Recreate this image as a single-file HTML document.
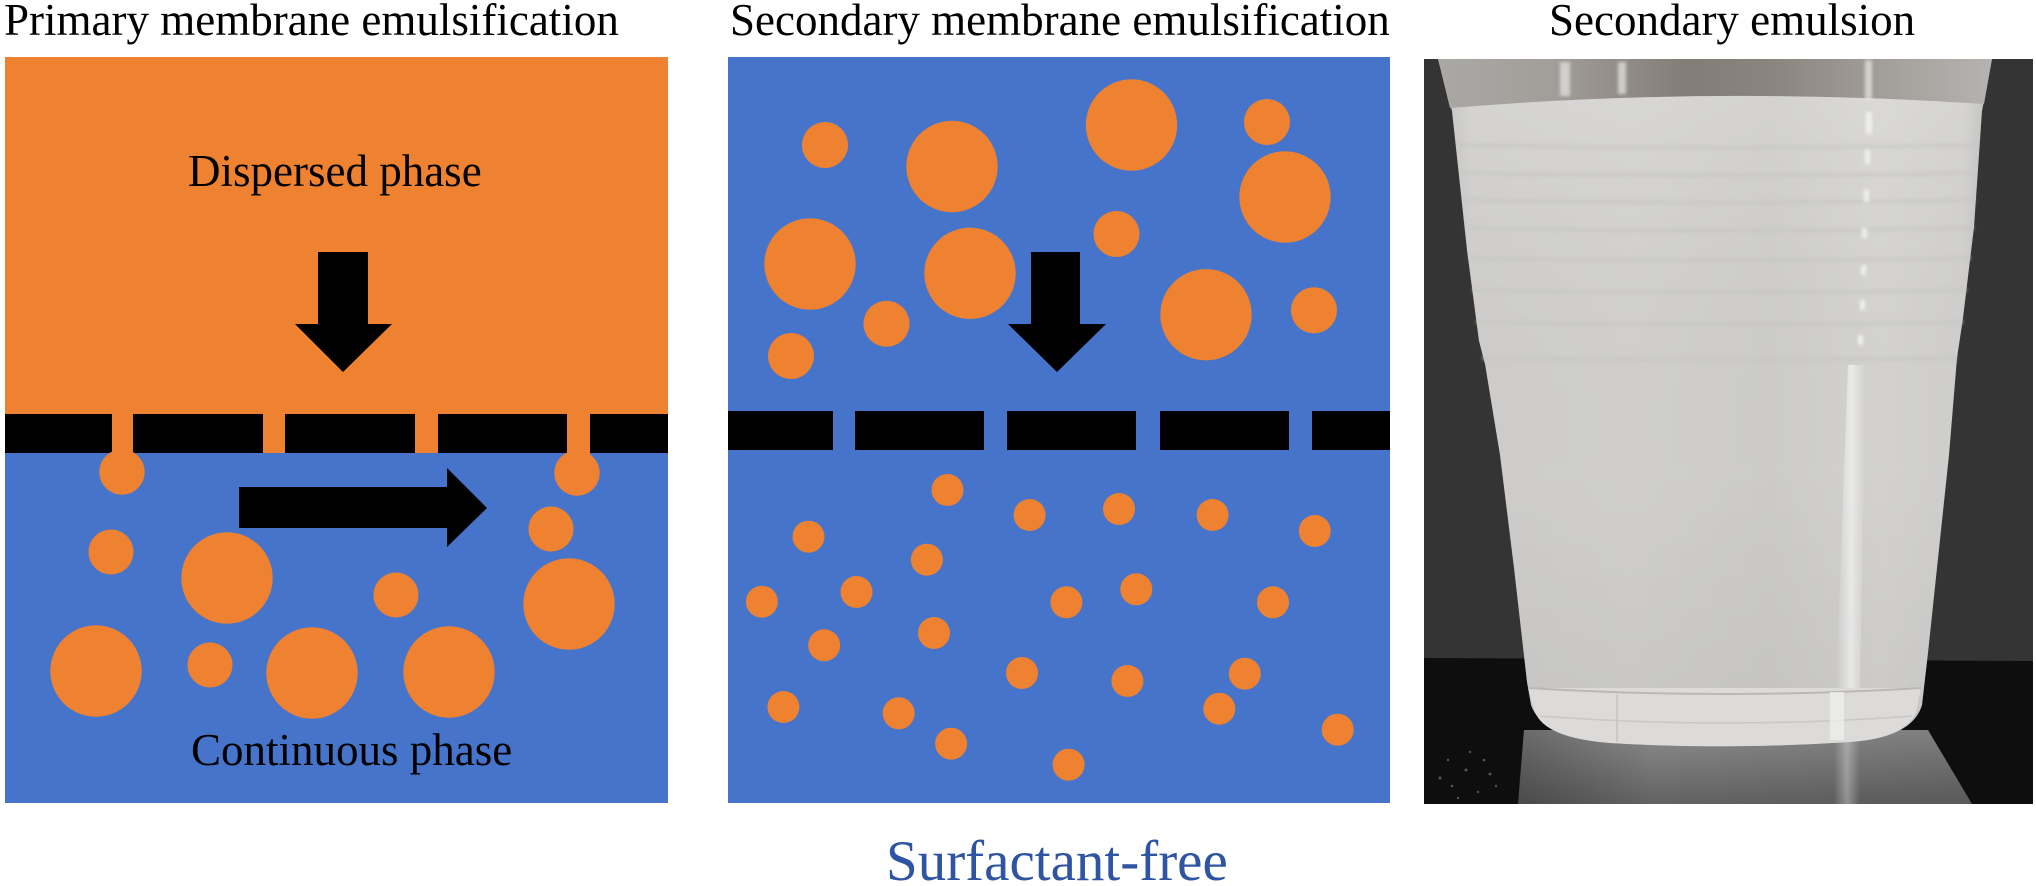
<!DOCTYPE html>
<html>
<head>
<meta charset="utf-8">
<style>
  html,body{margin:0;padding:0;background:#fff;}
  body{width:2036px;height:886px;overflow:hidden;}
  svg{display:block;}
  text{font-family:"Liberation Serif","Times New Roman",serif;}
</style>
</head>
<body>
<svg width="2036" height="886" viewBox="0 0 2036 886" xmlns="http://www.w3.org/2000/svg">
  <defs>
    <linearGradient id="cupH" x1="0" y1="0" x2="1" y2="0">
      <stop offset="0" stop-color="#c2c1bf"/>
      <stop offset="0.06" stop-color="#d3d2d0"/>
      <stop offset="0.35" stop-color="#d6d5d3"/>
      <stop offset="0.6" stop-color="#d2d1cf"/>
      <stop offset="0.8" stop-color="#d9d8d6"/>
      <stop offset="0.95" stop-color="#d4d3d1"/>
      <stop offset="1" stop-color="#bdbcba"/>
    </linearGradient>
    <linearGradient id="cupV" x1="0" y1="0" x2="0" y2="1">
      <stop offset="0" stop-color="#ffffff" stop-opacity="0.08"/>
      <stop offset="0.6" stop-color="#000000" stop-opacity="0.03"/>
      <stop offset="1" stop-color="#000000" stop-opacity="0.07"/>
    </linearGradient>
    <linearGradient id="rim" x1="0" y1="0" x2="1" y2="0">
      <stop offset="0" stop-color="#aaa8a5"/>
      <stop offset="0.2" stop-color="#a29e9a"/>
      <stop offset="0.45" stop-color="#837d77"/>
      <stop offset="0.6" stop-color="#8a847e"/>
      <stop offset="0.8" stop-color="#a29e9a"/>
      <stop offset="1" stop-color="#b5b3b0"/>
    </linearGradient>
    <linearGradient id="refl" x1="0" y1="0" x2="0" y2="1">
      <stop offset="0" stop-color="#8c8c8c"/>
      <stop offset="1" stop-color="#626262"/>
    </linearGradient>
    <linearGradient id="reflH" x1="0" y1="0" x2="1" y2="0">
      <stop offset="0" stop-color="#000" stop-opacity="0.25"/>
      <stop offset="0.3" stop-color="#000" stop-opacity="0"/>
      <stop offset="1" stop-color="#000" stop-opacity="0.1"/>
    </linearGradient>
    <linearGradient id="hl" x1="0" y1="0" x2="1" y2="0">
      <stop offset="0" stop-color="#ffffff" stop-opacity="0"/>
      <stop offset="0.5" stop-color="#ffffff" stop-opacity="0.55"/>
      <stop offset="1" stop-color="#ffffff" stop-opacity="0"/>
    </linearGradient>
    <filter id="blur2"><feGaussianBlur stdDeviation="1.5"/></filter>
    <clipPath id="photoClip"><rect x="1424" y="59" width="609" height="745"/></clipPath>
  </defs>

  <!-- Titles -->
  <text x="4" y="35" font-size="45" fill="#000">Primary membrane emulsification</text>
  <text x="730" y="35" font-size="45" fill="#000">Secondary membrane emulsification</text>
  <text x="1549" y="35" font-size="45" fill="#000">Secondary emulsion</text>

  <!-- ============ LEFT PANEL ============ -->
  <rect x="5" y="57" width="663" height="357" fill="#EE8231"/>
  <rect x="5" y="453" width="663" height="350" fill="#4674CB"/>
  <rect x="5" y="414" width="107" height="39" fill="#000"/>
  <rect x="133" y="414" width="130" height="39" fill="#000"/>
  <rect x="285" y="414" width="130" height="39" fill="#000"/>
  <rect x="438" y="414" width="130" height="39" fill="#000"/>
  <rect x="590" y="414" width="78" height="39" fill="#000"/>
  <rect x="112" y="414" width="21" height="40" fill="#EE8231"/>
  <rect x="263" y="414" width="22" height="39" fill="#EE8231"/>
  <rect x="415" y="414" width="23" height="39" fill="#EE8231"/>
  <rect x="567" y="414" width="23" height="40" fill="#EE8231"/>

  <text x="188" y="186" font-size="45" fill="#000">Dispersed phase</text>
  <polygon points="318,252 368,252 368,324 392,324 343,372 295,324 318,324" fill="#000"/>

  <g fill="#EE8231">
    <circle cx="122" cy="472" r="22.7"/>
    <circle cx="577" cy="473" r="22.7"/>
    <circle cx="111" cy="552" r="22.5"/>
    <circle cx="227" cy="578" r="45.7"/>
    <circle cx="396" cy="595" r="22.5"/>
    <circle cx="551" cy="529" r="22.5"/>
    <circle cx="569" cy="604" r="45.7"/>
    <circle cx="96" cy="671" r="45.7"/>
    <circle cx="210" cy="665" r="22.5"/>
    <circle cx="312" cy="673" r="45.7"/>
    <circle cx="449" cy="672" r="45.7"/>
  </g>
  <polygon points="239,487 447,487 447,468 487,508 447,547 447,528 239,528" fill="#000"/>

  <text x="191" y="765" font-size="45" fill="#000">Continuous phase</text>

  <!-- ============ MIDDLE PANEL ============ -->
  <rect x="728" y="57" width="662" height="746" fill="#4674CB"/>
  <rect x="728" y="411" width="105" height="39" fill="#000"/>
  <rect x="855" y="411" width="129" height="39" fill="#000"/>
  <rect x="1007" y="411" width="129" height="39" fill="#000"/>
  <rect x="1160" y="411" width="129" height="39" fill="#000"/>
  <rect x="1312" y="411" width="78" height="39" fill="#000"/>

  <g fill="#EE8231">
    <circle cx="825" cy="145" r="23"/>
    <circle cx="952" cy="166.5" r="45.7"/>
    <circle cx="1131.5" cy="125" r="45.7"/>
    <circle cx="1267" cy="122" r="23"/>
    <circle cx="1285" cy="197" r="45.7"/>
    <circle cx="1116.5" cy="234" r="23"/>
    <circle cx="810" cy="264" r="45.7"/>
    <circle cx="970" cy="273.3" r="45.7"/>
    <circle cx="886.5" cy="323.7" r="23"/>
    <circle cx="791" cy="356" r="23"/>
    <circle cx="1206" cy="314.7" r="45.7"/>
    <circle cx="1314" cy="310.3" r="23"/>
  </g>
  <polygon points="1031,252 1080,252 1080,324 1106,324 1057,372 1008,324 1031,324" fill="#000"/>

  <g fill="#EE8231">
    <circle cx="947.5" cy="490" r="16"/>
    <circle cx="808.5" cy="536.7" r="16"/>
    <circle cx="1029.6" cy="515" r="16"/>
    <circle cx="1119" cy="509" r="16"/>
    <circle cx="1212.6" cy="515" r="16"/>
    <circle cx="1314.8" cy="531" r="16"/>
    <circle cx="926.9" cy="559.7" r="16"/>
    <circle cx="761.9" cy="601.7" r="16"/>
    <circle cx="856.5" cy="592" r="16"/>
    <circle cx="1066.4" cy="602.3" r="16"/>
    <circle cx="1136.3" cy="589.3" r="16"/>
    <circle cx="1273" cy="602.3" r="16"/>
    <circle cx="824.2" cy="645.3" r="16"/>
    <circle cx="934" cy="633" r="16"/>
    <circle cx="1022" cy="673" r="16"/>
    <circle cx="1127.4" cy="681" r="16"/>
    <circle cx="1244.8" cy="673.7" r="16"/>
    <circle cx="783.4" cy="707" r="16"/>
    <circle cx="898.7" cy="713.3" r="16"/>
    <circle cx="1219.3" cy="708.7" r="16"/>
    <circle cx="951.1" cy="743.7" r="16"/>
    <circle cx="1337.7" cy="729.7" r="16"/>
    <circle cx="1068.6" cy="764.7" r="16"/>
  </g>

  <text x="886" y="880" font-size="57" fill="#2E54A2">Surfactant-free</text>

  <!-- ============ PHOTO ============ -->
  <g clip-path="url(#photoClip)">
    <rect x="1424" y="59" width="609" height="745" fill="#343434"/>
    <!-- table -->
    <path d="M1424,658 L2033,661 L2033,804 L1424,804 Z" fill="#0e0e0e"/>
    <g fill="#555">
      <circle cx="1440" cy="778" r="1.5"/><circle cx="1452" cy="786" r="1.3"/>
      <circle cx="1466" cy="770" r="1.5"/><circle cx="1478" cy="792" r="1.2"/>
      <circle cx="1490" cy="774" r="1.4"/><circle cx="1448" cy="760" r="1.2"/>
      <circle cx="1470" cy="752" r="1.2"/><circle cx="1484" cy="760" r="1.3"/>
      <circle cx="1496" cy="786" r="1.2"/><circle cx="1458" cy="798" r="1.2"/>
    </g>
    <!-- reflection under cup -->
    <path d="M1524,730 L1928,730 L1972,804 L1518,804 Z" fill="url(#refl)"/>
    <path d="M1524,730 L1928,730 L1972,804 L1518,804 Z" fill="url(#reflH)"/>
    <rect x="1834" y="740" width="26" height="64" fill="url(#hl)" opacity="0.6"/>
    <!-- cup body -->
    <path d="M1438,59 L1992,59 L1982,111 L1974,227 L1963,318 L1957,358 L1949,455 L1937,568 L1928,653 L1922,705 Q1912,738 1850,742 Q1725,750 1610,743 Q1542,737 1531,705 L1527,682 L1514,568 L1500,455 L1485,364 L1479,341 L1467,250 L1452,111 Z" fill="url(#cupH)"/>
    <path d="M1438,59 L1992,59 L1982,111 L1974,227 L1963,318 L1957,358 L1949,455 L1937,568 L1928,653 L1922,705 Q1912,738 1850,742 Q1725,750 1610,743 Q1542,737 1531,705 L1527,682 L1514,568 L1500,455 L1485,364 L1479,341 L1467,250 L1452,111 Z" fill="url(#cupV)"/>
    <!-- rim (transparent top) -->
    <path d="M1438,59 L1992,59 L1984,104 Q1715,86 1450,108 Z" fill="url(#rim)"/>
    <g fill="#e8e8e6" opacity="0.7" filter="url(#blur2)">
      <rect x="1560" y="62" width="10" height="34"/>
      <rect x="1618" y="62" width="8" height="32"/>
      <rect x="1865" y="60" width="7" height="40"/>
    </g>
    <!-- ridges (soft) -->
    <g stroke="#c5c4c2" stroke-width="4" fill="none" opacity="0.55" filter="url(#blur2)">
      <path d="M1458,145 Q1720,150 1978,145"/>
      <path d="M1461,173 Q1720,178 1976,173"/>
      <path d="M1464,200 Q1720,205 1975,200"/>
      <path d="M1466,228 Q1720,233 1974,228"/>
      <path d="M1469,258 Q1720,263 1971,258"/>
      <path d="M1472,290 Q1720,295 1967,290"/>
      <path d="M1476,322 Q1720,327 1963,322"/>
      <path d="M1482,358 Q1720,362 1957,358"/>
    </g>
    <!-- highlights -->
    <g fill="#f4f4f2" opacity="0.85" filter="url(#blur2)">
      <rect x="1866" y="112" width="6" height="22"/>
      <rect x="1865" y="150" width="5" height="14"/>
      <rect x="1864" y="190" width="5" height="12"/>
      <rect x="1862" y="228" width="5" height="10"/>
      <rect x="1861" y="265" width="5" height="10"/>
      <rect x="1860" y="300" width="5" height="10"/>
      <rect x="1858" y="335" width="5" height="10"/>
    </g>
    <path d="M1848,365 L1866,365 L1860,690 L1836,690 Z" fill="url(#hl)"/>
    <!-- base band -->
    <path d="M1528,688 L1921,688 L1916,712 Q1905,738 1850,742 Q1725,750 1610,743 Q1545,738 1535,712 Z" fill="#dcdbd9"/>
    <path d="M1528,688 Q1725,700 1921,688" stroke="#b9b8b6" stroke-width="2" fill="none"/>
    <path d="M1540,716 Q1725,730 1912,716" stroke="#c9c8c6" stroke-width="1.5" fill="none"/>
    <line x1="1617" y1="695" x2="1617" y2="742" stroke="#c4c3c1" stroke-width="1.5"/>
    <rect x="1830" y="692" width="14" height="48" fill="#eeeeec" opacity="0.8"/>
  </g>
</svg>
</body>
</html>
